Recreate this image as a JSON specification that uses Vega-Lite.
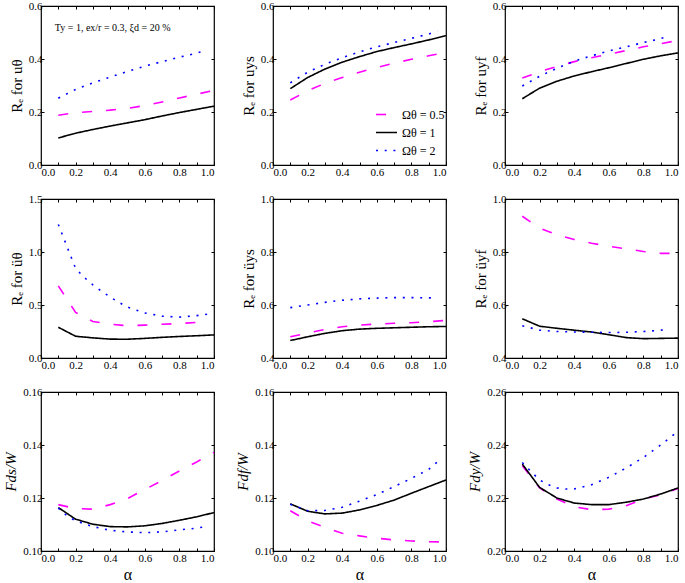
{
"$schema":"https://vega.github.io/schema/vega-lite/v6.json",
"padding":{"left":3,"top":-1,"right":0,"bottom":0},
"background":"white",
"config":{
 "font":"Liberation Serif",
 "view":{"stroke":"black","strokeWidth":1.2},
 "axis":{"domain":false,"grid":false,"tickColor":"black","tickSize":-3,"tickWidth":1,"labelFont":"Liberation Serif","labelFontSize":11,"labelColor":"black","titleFont":"Liberation Serif","titleFontSize":15,"titleFontWeight":"normal","titleColor":"black","titlePadding":4},
 "axisX":{"labelPadding":4},
 "axisY":{"labelPadding":2},
 "line":{"strokeWidth":1.6}
},
"datasets":{"d":[
{"p":1,"o":"0.5","a":0.1,"v":0.188},{"p":1,"o":"0.5","a":0.2,"v":0.197},{"p":1,"o":"0.5","a":0.3,"v":0.202},{"p":1,"o":"0.5","a":0.4,"v":0.207},{"p":1,"o":"0.5","a":0.5,"v":0.214},{"p":1,"o":"0.5","a":0.6,"v":0.224},{"p":1,"o":"0.5","a":0.7,"v":0.238},{"p":1,"o":"0.5","a":0.8,"v":0.253},{"p":1,"o":"0.5","a":0.9,"v":0.267},{"p":1,"o":"0.5","a":1.0,"v":0.282},
{"p":1,"o":"1","a":0.1,"v":0.102},{"p":1,"o":"1","a":0.2,"v":0.12},{"p":1,"o":"1","a":0.3,"v":0.134},{"p":1,"o":"1","a":0.4,"v":0.147},{"p":1,"o":"1","a":0.5,"v":0.159},{"p":1,"o":"1","a":0.6,"v":0.171},{"p":1,"o":"1","a":0.7,"v":0.185},{"p":1,"o":"1","a":0.8,"v":0.198},{"p":1,"o":"1","a":0.9,"v":0.21},{"p":1,"o":"1","a":1.0,"v":0.222},
{"p":1,"o":"2","a":0.1,"v":0.252},{"p":1,"o":"2","a":0.2,"v":0.285},{"p":1,"o":"2","a":0.3,"v":0.31},{"p":1,"o":"2","a":0.4,"v":0.332},{"p":1,"o":"2","a":0.5,"v":0.353},{"p":1,"o":"2","a":0.6,"v":0.373},{"p":1,"o":"2","a":0.7,"v":0.39},{"p":1,"o":"2","a":0.8,"v":0.407},{"p":1,"o":"2","a":0.9,"v":0.422},{"p":1,"o":"2","a":0.95,"v":0.432},
{"p":2,"o":"0.5","a":0.1,"v":0.245},{"p":2,"o":"0.5","a":0.2,"v":0.28},{"p":2,"o":"0.5","a":0.3,"v":0.308},{"p":2,"o":"0.5","a":0.4,"v":0.33},{"p":2,"o":"0.5","a":0.5,"v":0.35},{"p":2,"o":"0.5","a":0.6,"v":0.368},{"p":2,"o":"0.5","a":0.7,"v":0.384},{"p":2,"o":"0.5","a":0.8,"v":0.399},{"p":2,"o":"0.5","a":0.9,"v":0.412},{"p":2,"o":"0.5","a":1.0,"v":0.425},
{"p":2,"o":"1","a":0.1,"v":0.288},{"p":2,"o":"1","a":0.2,"v":0.33},{"p":2,"o":"1","a":0.3,"v":0.362},{"p":2,"o":"1","a":0.4,"v":0.388},{"p":2,"o":"1","a":0.5,"v":0.409},{"p":2,"o":"1","a":0.6,"v":0.428},{"p":2,"o":"1","a":0.7,"v":0.443},{"p":2,"o":"1","a":0.8,"v":0.457},{"p":2,"o":"1","a":0.9,"v":0.472},{"p":2,"o":"1","a":1.0,"v":0.488},
{"p":2,"o":"2","a":0.1,"v":0.31},{"p":2,"o":"2","a":0.2,"v":0.35},{"p":2,"o":"2","a":0.3,"v":0.38},{"p":2,"o":"2","a":0.4,"v":0.405},{"p":2,"o":"2","a":0.5,"v":0.427},{"p":2,"o":"2","a":0.6,"v":0.446},{"p":2,"o":"2","a":0.7,"v":0.462},{"p":2,"o":"2","a":0.8,"v":0.478},{"p":2,"o":"2","a":0.9,"v":0.494},{"p":2,"o":"2","a":0.95,"v":0.505},
{"p":3,"o":"0.5","a":0.1,"v":0.328},{"p":3,"o":"0.5","a":0.2,"v":0.352},{"p":3,"o":"0.5","a":0.3,"v":0.372},{"p":3,"o":"0.5","a":0.4,"v":0.39},{"p":3,"o":"0.5","a":0.5,"v":0.405},{"p":3,"o":"0.5","a":0.6,"v":0.418},{"p":3,"o":"0.5","a":0.7,"v":0.432},{"p":3,"o":"0.5","a":0.8,"v":0.446},{"p":3,"o":"0.5","a":0.9,"v":0.458},{"p":3,"o":"0.5","a":1.0,"v":0.47},
{"p":3,"o":"1","a":0.1,"v":0.25},{"p":3,"o":"1","a":0.2,"v":0.29},{"p":3,"o":"1","a":0.3,"v":0.316},{"p":3,"o":"1","a":0.4,"v":0.336},{"p":3,"o":"1","a":0.5,"v":0.352},{"p":3,"o":"1","a":0.6,"v":0.367},{"p":3,"o":"1","a":0.7,"v":0.383},{"p":3,"o":"1","a":0.8,"v":0.399},{"p":3,"o":"1","a":0.9,"v":0.412},{"p":3,"o":"1","a":1.0,"v":0.423},
{"p":3,"o":"2","a":0.1,"v":0.298},{"p":3,"o":"2","a":0.2,"v":0.335},{"p":3,"o":"2","a":0.3,"v":0.365},{"p":3,"o":"2","a":0.4,"v":0.392},{"p":3,"o":"2","a":0.5,"v":0.412},{"p":3,"o":"2","a":0.6,"v":0.43},{"p":3,"o":"2","a":0.7,"v":0.446},{"p":3,"o":"2","a":0.8,"v":0.462},{"p":3,"o":"2","a":0.9,"v":0.477},{"p":3,"o":"2","a":0.95,"v":0.488},
{"p":4,"o":"0.5","a":0.1,"v":0.68},{"p":4,"o":"0.5","a":0.2,"v":0.43},{"p":4,"o":"0.5","a":0.3,"v":0.345},{"p":4,"o":"0.5","a":0.4,"v":0.318},{"p":4,"o":"0.5","a":0.5,"v":0.305},{"p":4,"o":"0.5","a":0.6,"v":0.31},{"p":4,"o":"0.5","a":0.7,"v":0.318},{"p":4,"o":"0.5","a":0.8,"v":0.326},{"p":4,"o":"0.5","a":0.9,"v":0.335},{"p":4,"o":"0.5","a":0.95,"v":0.34},
{"p":4,"o":"1","a":0.1,"v":0.29},{"p":4,"o":"1","a":0.2,"v":0.205},{"p":4,"o":"1","a":0.3,"v":0.19},{"p":4,"o":"1","a":0.4,"v":0.178},{"p":4,"o":"1","a":0.5,"v":0.177},{"p":4,"o":"1","a":0.6,"v":0.185},{"p":4,"o":"1","a":0.7,"v":0.195},{"p":4,"o":"1","a":0.8,"v":0.203},{"p":4,"o":"1","a":0.9,"v":0.21},{"p":4,"o":"1","a":1.0,"v":0.218},
{"p":4,"o":"2","a":0.1,"v":1.26},{"p":4,"o":"2","a":0.2,"v":0.845},{"p":4,"o":"2","a":0.25,"v":0.76},{"p":4,"o":"2","a":0.3,"v":0.69},{"p":4,"o":"2","a":0.35,"v":0.63},{"p":4,"o":"2","a":0.4,"v":0.575},{"p":4,"o":"2","a":0.45,"v":0.525},{"p":4,"o":"2","a":0.5,"v":0.48},{"p":4,"o":"2","a":0.6,"v":0.425},{"p":4,"o":"2","a":0.7,"v":0.395},{"p":4,"o":"2","a":0.8,"v":0.386},{"p":4,"o":"2","a":0.9,"v":0.4},{"p":4,"o":"2","a":0.97,"v":0.415},
{"p":5,"o":"0.5","a":0.1,"v":0.48},{"p":5,"o":"0.5","a":0.2,"v":0.494},{"p":5,"o":"0.5","a":0.3,"v":0.508},{"p":5,"o":"0.5","a":0.4,"v":0.518},{"p":5,"o":"0.5","a":0.5,"v":0.524},{"p":5,"o":"0.5","a":0.6,"v":0.528},{"p":5,"o":"0.5","a":0.7,"v":0.531},{"p":5,"o":"0.5","a":0.8,"v":0.533},{"p":5,"o":"0.5","a":0.9,"v":0.537},{"p":5,"o":"0.5","a":1.0,"v":0.542},
{"p":5,"o":"1","a":0.1,"v":0.466},{"p":5,"o":"1","a":0.2,"v":0.48},{"p":5,"o":"1","a":0.3,"v":0.493},{"p":5,"o":"1","a":0.4,"v":0.503},{"p":5,"o":"1","a":0.5,"v":0.509},{"p":5,"o":"1","a":0.6,"v":0.512},{"p":5,"o":"1","a":0.7,"v":0.514},{"p":5,"o":"1","a":0.8,"v":0.516},{"p":5,"o":"1","a":0.9,"v":0.518},{"p":5,"o":"1","a":1.0,"v":0.519},
{"p":5,"o":"2","a":0.1,"v":0.59},{"p":5,"o":"2","a":0.2,"v":0.6},{"p":5,"o":"2","a":0.3,"v":0.61},{"p":5,"o":"2","a":0.4,"v":0.618},{"p":5,"o":"2","a":0.5,"v":0.623},{"p":5,"o":"2","a":0.6,"v":0.626},{"p":5,"o":"2","a":0.7,"v":0.628},{"p":5,"o":"2","a":0.8,"v":0.628},{"p":5,"o":"2","a":0.9,"v":0.627},{"p":5,"o":"2","a":0.95,"v":0.626},
{"p":6,"o":"0.5","a":0.1,"v":0.935},{"p":6,"o":"0.5","a":0.2,"v":0.89},{"p":6,"o":"0.5","a":0.3,"v":0.865},{"p":6,"o":"0.5","a":0.4,"v":0.847},{"p":6,"o":"0.5","a":0.5,"v":0.833},{"p":6,"o":"0.5","a":0.6,"v":0.822},{"p":6,"o":"0.5","a":0.7,"v":0.812},{"p":6,"o":"0.5","a":0.8,"v":0.802},{"p":6,"o":"0.5","a":0.9,"v":0.795},{"p":6,"o":"0.5","a":1.0,"v":0.795},
{"p":6,"o":"1","a":0.1,"v":0.548},{"p":6,"o":"1","a":0.2,"v":0.52},{"p":6,"o":"1","a":0.3,"v":0.512},{"p":6,"o":"1","a":0.4,"v":0.505},{"p":6,"o":"1","a":0.5,"v":0.498},{"p":6,"o":"1","a":0.6,"v":0.488},{"p":6,"o":"1","a":0.7,"v":0.477},{"p":6,"o":"1","a":0.8,"v":0.473},{"p":6,"o":"1","a":0.9,"v":0.474},{"p":6,"o":"1","a":1.0,"v":0.475},
{"p":6,"o":"2","a":0.1,"v":0.522},{"p":6,"o":"2","a":0.2,"v":0.505},{"p":6,"o":"2","a":0.3,"v":0.5},{"p":6,"o":"2","a":0.4,"v":0.498},{"p":6,"o":"2","a":0.5,"v":0.497},{"p":6,"o":"2","a":0.6,"v":0.496},{"p":6,"o":"2","a":0.7,"v":0.497},{"p":6,"o":"2","a":0.8,"v":0.5},{"p":6,"o":"2","a":0.9,"v":0.505},{"p":6,"o":"2","a":0.95,"v":0.508},
{"p":7,"o":"0.5","a":0.1,"v":0.1175},{"p":7,"o":"0.5","a":0.2,"v":0.116},{"p":7,"o":"0.5","a":0.3,"v":0.1158},{"p":7,"o":"0.5","a":0.4,"v":0.1175},{"p":7,"o":"0.5","a":0.5,"v":0.1198},{"p":7,"o":"0.5","a":0.6,"v":0.1232},{"p":7,"o":"0.5","a":0.7,"v":0.1266},{"p":7,"o":"0.5","a":0.8,"v":0.1302},{"p":7,"o":"0.5","a":0.9,"v":0.1336},{"p":7,"o":"0.5","a":1.0,"v":0.1372},
{"p":7,"o":"1","a":0.1,"v":0.1164},{"p":7,"o":"1","a":0.2,"v":0.112},{"p":7,"o":"1","a":0.3,"v":0.1101},{"p":7,"o":"1","a":0.4,"v":0.1092},{"p":7,"o":"1","a":0.5,"v":0.1091},{"p":7,"o":"1","a":0.6,"v":0.1095},{"p":7,"o":"1","a":0.7,"v":0.1104},{"p":7,"o":"1","a":0.8,"v":0.1116},{"p":7,"o":"1","a":0.9,"v":0.1129},{"p":7,"o":"1","a":1.0,"v":0.1145},
{"p":7,"o":"2","a":0.1,"v":0.1162},{"p":7,"o":"2","a":0.15,"v":0.1133},{"p":7,"o":"2","a":0.2,"v":0.1114},{"p":7,"o":"2","a":0.3,"v":0.1092},{"p":7,"o":"2","a":0.4,"v":0.1078},{"p":7,"o":"2","a":0.5,"v":0.1072},{"p":7,"o":"2","a":0.6,"v":0.1069},{"p":7,"o":"2","a":0.7,"v":0.1072},{"p":7,"o":"2","a":0.8,"v":0.108},{"p":7,"o":"2","a":0.9,"v":0.1086},{"p":7,"o":"2","a":0.95,"v":0.1092},
{"p":8,"o":"0.5","a":0.1,"v":0.1152},{"p":8,"o":"0.5","a":0.2,"v":0.1114},{"p":8,"o":"0.5","a":0.3,"v":0.1089},{"p":8,"o":"0.5","a":0.4,"v":0.1067},{"p":8,"o":"0.5","a":0.5,"v":0.1057},{"p":8,"o":"0.5","a":0.6,"v":0.1048},{"p":8,"o":"0.5","a":0.7,"v":0.1042},{"p":8,"o":"0.5","a":0.8,"v":0.1038},{"p":8,"o":"0.5","a":0.9,"v":0.1035},{"p":8,"o":"0.5","a":1.0,"v":0.1034},
{"p":8,"o":"1","a":0.1,"v":0.1178},{"p":8,"o":"1","a":0.2,"v":0.115},{"p":8,"o":"1","a":0.3,"v":0.114},{"p":8,"o":"1","a":0.4,"v":0.1143},{"p":8,"o":"1","a":0.5,"v":0.1155},{"p":8,"o":"1","a":0.6,"v":0.1172},{"p":8,"o":"1","a":0.7,"v":0.1192},{"p":8,"o":"1","a":0.8,"v":0.1218},{"p":8,"o":"1","a":0.9,"v":0.1243},{"p":8,"o":"1","a":1.0,"v":0.1268},
{"p":8,"o":"2","a":0.1,"v":0.1176},{"p":8,"o":"2","a":0.2,"v":0.1152},{"p":8,"o":"2","a":0.3,"v":0.1153},{"p":8,"o":"2","a":0.4,"v":0.1165},{"p":8,"o":"2","a":0.5,"v":0.1188},{"p":8,"o":"2","a":0.6,"v":0.1213},{"p":8,"o":"2","a":0.7,"v":0.1243},{"p":8,"o":"2","a":0.8,"v":0.1274},{"p":8,"o":"2","a":0.9,"v":0.1308},{"p":8,"o":"2","a":0.95,"v":0.1336},
{"p":9,"o":"0.5","a":0.1,"v":0.2322},{"p":9,"o":"0.5","a":0.2,"v":0.2238},{"p":9,"o":"0.5","a":0.3,"v":0.2196},{"p":9,"o":"0.5","a":0.4,"v":0.2167},{"p":9,"o":"0.5","a":0.5,"v":0.2156},{"p":9,"o":"0.5","a":0.6,"v":0.2158},{"p":9,"o":"0.5","a":0.7,"v":0.2171},{"p":9,"o":"0.5","a":0.8,"v":0.2196},{"p":9,"o":"0.5","a":0.9,"v":0.2212},{"p":9,"o":"0.5","a":1.0,"v":0.2236},
{"p":9,"o":"1","a":0.1,"v":0.2328},{"p":9,"o":"1","a":0.2,"v":0.224},{"p":9,"o":"1","a":0.3,"v":0.22},{"p":9,"o":"1","a":0.4,"v":0.2181},{"p":9,"o":"1","a":0.5,"v":0.2175},{"p":9,"o":"1","a":0.6,"v":0.2175},{"p":9,"o":"1","a":0.7,"v":0.2184},{"p":9,"o":"1","a":0.8,"v":0.2196},{"p":9,"o":"1","a":0.9,"v":0.2215},{"p":9,"o":"1","a":1.0,"v":0.2238},
{"p":9,"o":"2","a":0.1,"v":0.2334},{"p":9,"o":"2","a":0.15,"v":0.23},{"p":9,"o":"2","a":0.2,"v":0.2268},{"p":9,"o":"2","a":0.25,"v":0.225},{"p":9,"o":"2","a":0.3,"v":0.2238},{"p":9,"o":"2","a":0.35,"v":0.2234},{"p":9,"o":"2","a":0.4,"v":0.2234},{"p":9,"o":"2","a":0.5,"v":0.225},{"p":9,"o":"2","a":0.6,"v":0.2278},{"p":9,"o":"2","a":0.7,"v":0.2313},{"p":9,"o":"2","a":0.8,"v":0.2353},{"p":9,"o":"2","a":0.9,"v":0.24},{"p":9,"o":"2","a":1.0,"v":0.2452}
]},
"resolve":{"scale":{"color":"independent","strokeDash":"independent"}},
"bounds":"flush","spacing":{"row":34,"column":59},"columns":3,
"concat":[
     {"width":173,"height":159,"data":{"name":"d"},"transform":[{"filter":"datum.p==1"}],
      "resolve":{"axis":{"x":"independent","y":"independent"}},
      "layer":[
       {"mark":{"type":"line"},
        "encoding":{
         "x":{"field":"a","type":"quantitative","scale":{"domain":[0,1],"nice":false,"zero":false},"axis":{"orient":"bottom","values":[0,0.1,0.2,0.3,0.4,0.5,0.6,0.7,0.8,0.9,1],"labelExpr":"round(datum.value*10)%2==0 ? format(datum.value,'.1f') : ''","title":null}},
         "y":{"field":"v","type":"quantitative","scale":{"domain":[0,0.6],"nice":false,"zero":false},"axis":{"orient":"left","values":[0,0.2,0.4,0.6],"format":".1f","title":"Rₑ for uθ"}},
         "color":{"field":"o","type":"nominal","scale":{"domain":["0.5","1","2"],"range":["#ff00ff","#000000","#0000ff"]},"legend":null},
         "strokeDash":{"field":"o","type":"nominal","scale":{"domain":["0.5","1","2"],"range":[[10,14],[1,0],[2,6.7]]},"legend":null}}},
       {"mark":{"type":"point","opacity":0},
        "encoding":{
         "x":{"field":"a","type":"quantitative","axis":{"orient":"top","values":[0,0.1,0.2,0.3,0.4,0.5,0.6,0.7,0.8,0.9,1],"labels":false,"title":null}},
         "y":{"field":"v","type":"quantitative","axis":{"orient":"right","values":[0,0.2,0.4,0.6],"labels":false,"title":null}}}},
       {"data":{"values":[{}]},"mark":{"type":"text","align":"left","baseline":"middle","fontSize":10,"font":"Liberation Serif"},
        "encoding":{"x":{"datum":0.08,"type":"quantitative","axis":null},"y":{"datum":0.518,"type":"quantitative","axis":null},"text":{"value":"Ty = 1, ex/r = 0.3, ξd = 20 %"}}}
      ]},
     {"width":173,"height":159,"data":{"name":"d"},"transform":[{"filter":"datum.p==2"}],
      "resolve":{"axis":{"x":"independent","y":"independent"}},
      "layer":[
       {"mark":{"type":"line"},
        "encoding":{
         "x":{"field":"a","type":"quantitative","scale":{"domain":[0,1],"nice":false,"zero":false},"axis":{"orient":"bottom","values":[0,0.1,0.2,0.3,0.4,0.5,0.6,0.7,0.8,0.9,1],"labelExpr":"round(datum.value*10)%2==0 ? format(datum.value,'.1f') : ''","title":null}},
         "y":{"field":"v","type":"quantitative","scale":{"domain":[0,0.6],"nice":false,"zero":false},"axis":{"orient":"left","values":[0,0.2,0.4,0.6],"format":".1f","title":"Rₑ for uys"}},
         "color":{"field":"o","type":"nominal","scale":{"domain":["0.5","1","2"],"range":["#ff00ff","#000000","#0000ff"]},
           "legend":{"orient":"none","legendX":102,"legendY":97,"title":null,"labelExpr":"'Ωθ = ' + datum.label","symbolType":"stroke","symbolSize":441,"symbolStrokeWidth":1.6,"labelFont":"Liberation Serif","labelFontSize":12,"labelColor":"black","rowPadding":-7,"labelOffset":4}},
         "strokeDash":{"field":"o","type":"nominal","scale":{"domain":["0.5","1","2"],"range":[[10,14],[1,0],[2,6.7]]},
           "legend":{"orient":"none","legendX":102,"legendY":97,"title":null,"labelExpr":"'Ωθ = ' + datum.label","symbolType":"stroke","symbolSize":441,"symbolStrokeWidth":1.6,"labelFont":"Liberation Serif","labelFontSize":12,"labelColor":"black","rowPadding":-7,"labelOffset":4}}}},
       {"mark":{"type":"point","opacity":0},
        "encoding":{
         "x":{"field":"a","type":"quantitative","axis":{"orient":"top","values":[0,0.1,0.2,0.3,0.4,0.5,0.6,0.7,0.8,0.9,1],"labels":false,"title":null}},
         "y":{"field":"v","type":"quantitative","axis":{"orient":"right","values":[0,0.2,0.4,0.6],"labels":false,"title":null}}}}
      ]},
     {"width":173,"height":159,"data":{"name":"d"},"transform":[{"filter":"datum.p==3"}],
      "resolve":{"axis":{"x":"independent","y":"independent"}},
      "layer":[
       {"mark":{"type":"line"},
        "encoding":{
         "x":{"field":"a","type":"quantitative","scale":{"domain":[0,1],"nice":false,"zero":false},"axis":{"orient":"bottom","values":[0,0.1,0.2,0.3,0.4,0.5,0.6,0.7,0.8,0.9,1],"labelExpr":"round(datum.value*10)%2==0 ? format(datum.value,'.1f') : ''","title":null}},
         "y":{"field":"v","type":"quantitative","scale":{"domain":[0,0.6],"nice":false,"zero":false},"axis":{"orient":"left","values":[0,0.2,0.4,0.6],"format":".1f","title":"Rₑ for uyf"}},
         "color":{"field":"o","type":"nominal","scale":{"domain":["0.5","1","2"],"range":["#ff00ff","#000000","#0000ff"]},"legend":null},
         "strokeDash":{"field":"o","type":"nominal","scale":{"domain":["0.5","1","2"],"range":[[10,14],[1,0],[2,6.7]]},"legend":null}}},
       {"mark":{"type":"point","opacity":0},
        "encoding":{
         "x":{"field":"a","type":"quantitative","axis":{"orient":"top","values":[0,0.1,0.2,0.3,0.4,0.5,0.6,0.7,0.8,0.9,1],"labels":false,"title":null}},
         "y":{"field":"v","type":"quantitative","axis":{"orient":"right","values":[0,0.2,0.4,0.6],"labels":false,"title":null}}}}
      ]},
     {"width":173,"height":159,"data":{"name":"d"},"transform":[{"filter":"datum.p==4"}],
      "resolve":{"axis":{"x":"independent","y":"independent"}},
      "layer":[
       {"mark":{"type":"line"},
        "encoding":{
         "x":{"field":"a","type":"quantitative","scale":{"domain":[0,1],"nice":false,"zero":false},"axis":{"orient":"bottom","values":[0,0.1,0.2,0.3,0.4,0.5,0.6,0.7,0.8,0.9,1],"labelExpr":"round(datum.value*10)%2==0 ? format(datum.value,'.1f') : ''","title":null}},
         "y":{"field":"v","type":"quantitative","scale":{"domain":[0,1.5],"nice":false,"zero":false},"axis":{"orient":"left","values":[0,0.5,1,1.5],"format":".1f","title":"Rₑ for üθ"}},
         "color":{"field":"o","type":"nominal","scale":{"domain":["0.5","1","2"],"range":["#ff00ff","#000000","#0000ff"]},"legend":null},
         "strokeDash":{"field":"o","type":"nominal","scale":{"domain":["0.5","1","2"],"range":[[10,14],[1,0],[2,6.7]]},"legend":null}}},
       {"mark":{"type":"point","opacity":0},
        "encoding":{
         "x":{"field":"a","type":"quantitative","axis":{"orient":"top","values":[0,0.1,0.2,0.3,0.4,0.5,0.6,0.7,0.8,0.9,1],"labels":false,"title":null}},
         "y":{"field":"v","type":"quantitative","axis":{"orient":"right","values":[0,0.5,1,1.5],"labels":false,"title":null}}}}
      ]},
     {"width":173,"height":159,"data":{"name":"d"},"transform":[{"filter":"datum.p==5"}],
      "resolve":{"axis":{"x":"independent","y":"independent"}},
      "layer":[
       {"mark":{"type":"line"},
        "encoding":{
         "x":{"field":"a","type":"quantitative","scale":{"domain":[0,1],"nice":false,"zero":false},"axis":{"orient":"bottom","values":[0,0.1,0.2,0.3,0.4,0.5,0.6,0.7,0.8,0.9,1],"labelExpr":"round(datum.value*10)%2==0 ? format(datum.value,'.1f') : ''","title":null}},
         "y":{"field":"v","type":"quantitative","scale":{"domain":[0.4,1],"nice":false,"zero":false},"axis":{"orient":"left","values":[0.4,0.6,0.8,1],"format":".1f","title":"Rₑ for üys"}},
         "color":{"field":"o","type":"nominal","scale":{"domain":["0.5","1","2"],"range":["#ff00ff","#000000","#0000ff"]},"legend":null},
         "strokeDash":{"field":"o","type":"nominal","scale":{"domain":["0.5","1","2"],"range":[[10,14],[1,0],[2,6.7]]},"legend":null}}},
       {"mark":{"type":"point","opacity":0},
        "encoding":{
         "x":{"field":"a","type":"quantitative","axis":{"orient":"top","values":[0,0.1,0.2,0.3,0.4,0.5,0.6,0.7,0.8,0.9,1],"labels":false,"title":null}},
         "y":{"field":"v","type":"quantitative","axis":{"orient":"right","values":[0.4,0.6,0.8,1],"labels":false,"title":null}}}}
      ]},
     {"width":173,"height":159,"data":{"name":"d"},"transform":[{"filter":"datum.p==6"}],
      "resolve":{"axis":{"x":"independent","y":"independent"}},
      "layer":[
       {"mark":{"type":"line"},
        "encoding":{
         "x":{"field":"a","type":"quantitative","scale":{"domain":[0,1],"nice":false,"zero":false},"axis":{"orient":"bottom","values":[0,0.1,0.2,0.3,0.4,0.5,0.6,0.7,0.8,0.9,1],"labelExpr":"round(datum.value*10)%2==0 ? format(datum.value,'.1f') : ''","title":null}},
         "y":{"field":"v","type":"quantitative","scale":{"domain":[0.4,1],"nice":false,"zero":false},"axis":{"orient":"left","values":[0.4,0.6,0.8,1],"format":".1f","title":"Rₑ for üyf"}},
         "color":{"field":"o","type":"nominal","scale":{"domain":["0.5","1","2"],"range":["#ff00ff","#000000","#0000ff"]},"legend":null},
         "strokeDash":{"field":"o","type":"nominal","scale":{"domain":["0.5","1","2"],"range":[[10,14],[1,0],[2,6.7]]},"legend":null}}},
       {"mark":{"type":"point","opacity":0},
        "encoding":{
         "x":{"field":"a","type":"quantitative","axis":{"orient":"top","values":[0,0.1,0.2,0.3,0.4,0.5,0.6,0.7,0.8,0.9,1],"labels":false,"title":null}},
         "y":{"field":"v","type":"quantitative","axis":{"orient":"right","values":[0.4,0.6,0.8,1],"labels":false,"title":null}}}}
      ]},
     {"width":173,"height":159,"data":{"name":"d"},"transform":[{"filter":"datum.p==7"}],
      "resolve":{"axis":{"x":"independent","y":"independent"}},
      "layer":[
       {"mark":{"type":"line"},
        "encoding":{
         "x":{"field":"a","type":"quantitative","scale":{"domain":[0,1],"nice":false,"zero":false},"axis":{"orient":"bottom","values":[0,0.1,0.2,0.3,0.4,0.5,0.6,0.7,0.8,0.9,1],"labelExpr":"round(datum.value*10)%2==0 ? format(datum.value,'.1f') : ''","title":"α","titleFontSize":16,"titlePadding":3}},
         "y":{"field":"v","type":"quantitative","scale":{"domain":[0.1,0.16],"nice":false,"zero":false},"axis":{"orient":"left","values":[0.1,0.12,0.14,0.16],"format":".2f","title":"Fds/W","titleFontStyle":"italic"}},
         "color":{"field":"o","type":"nominal","scale":{"domain":["0.5","1","2"],"range":["#ff00ff","#000000","#0000ff"]},"legend":null},
         "strokeDash":{"field":"o","type":"nominal","scale":{"domain":["0.5","1","2"],"range":[[10,14],[1,0],[2,6.7]]},"legend":null}}},
       {"mark":{"type":"point","opacity":0},
        "encoding":{
         "x":{"field":"a","type":"quantitative","axis":{"orient":"top","values":[0,0.1,0.2,0.3,0.4,0.5,0.6,0.7,0.8,0.9,1],"labels":false,"title":null}},
         "y":{"field":"v","type":"quantitative","axis":{"orient":"right","values":[0.1,0.12,0.14,0.16],"labels":false,"title":null}}}}
      ]},
     {"width":173,"height":159,"data":{"name":"d"},"transform":[{"filter":"datum.p==8"}],
      "resolve":{"axis":{"x":"independent","y":"independent"}},
      "layer":[
       {"mark":{"type":"line"},
        "encoding":{
         "x":{"field":"a","type":"quantitative","scale":{"domain":[0,1],"nice":false,"zero":false},"axis":{"orient":"bottom","values":[0,0.1,0.2,0.3,0.4,0.5,0.6,0.7,0.8,0.9,1],"labelExpr":"round(datum.value*10)%2==0 ? format(datum.value,'.1f') : ''","title":"α","titleFontSize":16,"titlePadding":3}},
         "y":{"field":"v","type":"quantitative","scale":{"domain":[0.1,0.16],"nice":false,"zero":false},"axis":{"orient":"left","values":[0.1,0.12,0.14,0.16],"format":".2f","title":"Fdf/W","titleFontStyle":"italic"}},
         "color":{"field":"o","type":"nominal","scale":{"domain":["0.5","1","2"],"range":["#ff00ff","#000000","#0000ff"]},"legend":null},
         "strokeDash":{"field":"o","type":"nominal","scale":{"domain":["0.5","1","2"],"range":[[10,14],[1,0],[2,6.7]]},"legend":null}}},
       {"mark":{"type":"point","opacity":0},
        "encoding":{
         "x":{"field":"a","type":"quantitative","axis":{"orient":"top","values":[0,0.1,0.2,0.3,0.4,0.5,0.6,0.7,0.8,0.9,1],"labels":false,"title":null}},
         "y":{"field":"v","type":"quantitative","axis":{"orient":"right","values":[0.1,0.12,0.14,0.16],"labels":false,"title":null}}}}
      ]},
     {"width":173,"height":159,"data":{"name":"d"},"transform":[{"filter":"datum.p==9"}],
      "resolve":{"axis":{"x":"independent","y":"independent"}},
      "layer":[
       {"mark":{"type":"line"},
        "encoding":{
         "x":{"field":"a","type":"quantitative","scale":{"domain":[0,1],"nice":false,"zero":false},"axis":{"orient":"bottom","values":[0,0.1,0.2,0.3,0.4,0.5,0.6,0.7,0.8,0.9,1],"labelExpr":"round(datum.value*10)%2==0 ? format(datum.value,'.1f') : ''","title":"α","titleFontSize":16,"titlePadding":3}},
         "y":{"field":"v","type":"quantitative","scale":{"domain":[0.2,0.26],"nice":false,"zero":false},"axis":{"orient":"left","values":[0.2,0.22,0.24,0.26],"format":".2f","title":"Fdy/W","titleFontStyle":"italic"}},
         "color":{"field":"o","type":"nominal","scale":{"domain":["0.5","1","2"],"range":["#ff00ff","#000000","#0000ff"]},"legend":null},
         "strokeDash":{"field":"o","type":"nominal","scale":{"domain":["0.5","1","2"],"range":[[10,14],[1,0],[2,6.7]]},"legend":null}}},
       {"mark":{"type":"point","opacity":0},
        "encoding":{
         "x":{"field":"a","type":"quantitative","axis":{"orient":"top","values":[0,0.1,0.2,0.3,0.4,0.5,0.6,0.7,0.8,0.9,1],"labels":false,"title":null}},
         "y":{"field":"v","type":"quantitative","axis":{"orient":"right","values":[0.2,0.22,0.24,0.26],"labels":false,"title":null}}}}
      ]}
]
}
